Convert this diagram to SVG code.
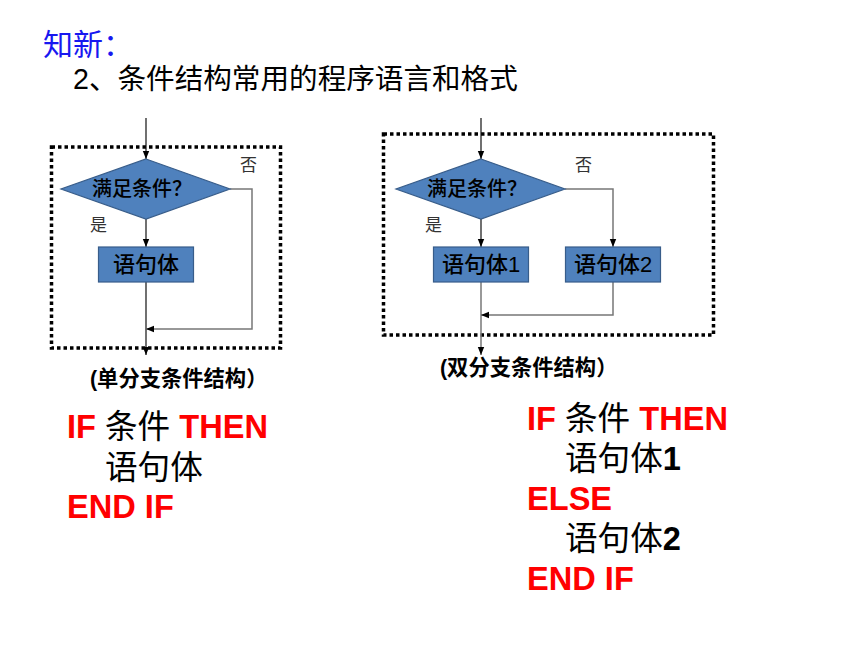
<svg xmlns="http://www.w3.org/2000/svg" width="860" height="645" viewBox="0 0 860 645">
<style>
.f{font-family:"Liberation Sans","Noto Sans CJK SC",sans-serif}
.border{fill:none;stroke:#000;stroke-width:3.5;stroke-dasharray:3.5 3}
.node{fill:#4f81bd;stroke:#385d8a;stroke-width:1.2}
.nt{font-size:20px;fill:#000;text-anchor:middle;font-weight:500}
.st{font-size:22px}
.lbl{font-size:17px;fill:#333}
.cap{font-size:21.3px;font-weight:bold;fill:#000}
.ln{fill:none;stroke:#111;stroke-width:1.2}
.lg{fill:none;stroke:#777;stroke-width:1.5}
.code{font-size:32.6px;font-weight:bold}
.red{fill:#ff0000}
.blk{fill:#000}
.cn{font-weight:normal}
</style>
<defs>
<marker id="ah" viewBox="0 0 8 8" refX="8" refY="4" markerWidth="8" markerHeight="8" markerUnits="userSpaceOnUse" orient="auto">
<path d="M0,0.8 L8,4 L0,7.2 z" fill="#000"/>
</marker>
</defs>
<rect width="860" height="645" fill="#fff"/>
<text class="f" x="43" y="55" font-size="30" fill="#1818f0">知新：</text>
<text class="f" x="73" y="89" font-size="28.6" fill="#000">2、条件结构常用的程序语言和格式</text>

<rect class="border" x="51.5" y="147" width="229" height="201"/>
<rect class="border" x="383.5" y="134" width="330" height="201"/>

<g id="connectors">
<path class="ln" d="M146,118 V159" marker-end="url(#ah)"/>
<path class="ln" d="M146,219 V247" marker-end="url(#ah)"/>
<path class="ln" d="M146,282 V355" marker-end="url(#ah)"/>
<path class="lg" d="M230,189 H252 V329 H146" marker-end="url(#ah)"/>
<path class="ln" d="M481,118 V159" marker-end="url(#ah)"/>
<path class="ln" d="M481,219 V247" marker-end="url(#ah)"/>
<path class="lg" d="M565,189 H613 V247" marker-end="url(#ah)"/>
<path class="lg" d="M481,282 V355" marker-end="url(#ah)"/>
<path class="lg" d="M613,282 V315 H481" marker-end="url(#ah)"/>
</g>

<g id="cond1">
<polygon class="node" points="146,159 230,189 146,219 61,189"/>
<text class="f nt" x="142" y="196">满足条件？</text>
</g>
<g id="stmt1">
<rect class="node" x="98.5" y="247" width="95" height="35"/>
<text class="f nt st" x="146" y="272">语句体</text>
</g>
<text class="f lbl" x="240" y="171">否</text>
<text class="f lbl" x="90" y="231">是</text>

<g id="cond2">
<polygon class="node" points="481,159 565,189 481,219 396,189"/>
<text class="f nt" x="477" y="196">满足条件？</text>
</g>
<g id="stmtA">
<rect class="node" x="433.5" y="247" width="95" height="35"/>
<text class="f nt st" x="481" y="272">语句体1</text>
</g>
<g id="stmtB">
<rect class="node" x="565.5" y="247" width="95" height="35"/>
<text class="f nt st" x="613" y="272">语句体2</text>
</g>
<text class="f lbl" x="575" y="171">否</text>
<text class="f lbl" x="425" y="231">是</text>

<text class="f cap" x="90" y="386">(单分支条件结构）</text>
<text class="f cap" x="440" y="375">(双分支条件结构）</text>

<text class="f code" x="67" y="438"><tspan class="red">IF </tspan><tspan class="blk cn">条件</tspan><tspan class="red"> THEN</tspan></text>
<text class="f code blk cn" x="105" y="479">语句体</text>
<text class="f code red" x="67" y="518">END IF</text>

<text class="f code" x="527" y="430"><tspan class="red">IF </tspan><tspan class="blk cn">条件</tspan><tspan class="red"> THEN</tspan></text>
<text class="f code blk" x="565" y="470"><tspan class="cn">语句体</tspan>1</text>
<text class="f code red" x="527" y="510">ELSE</text>
<text class="f code blk" x="565" y="550"><tspan class="cn">语句体</tspan>2</text>
<text class="f code red" x="527" y="590">END IF</text>
</svg>
